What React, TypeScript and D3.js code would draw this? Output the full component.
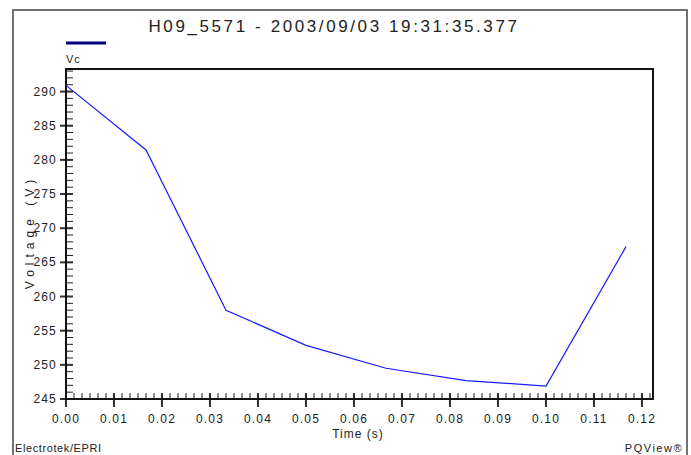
import React from "react";
import * as d3 from "d3";

const times = [0, 1 / 60, 2 / 60, 3 / 60, 4 / 60, 5 / 60, 6 / 60, 7 / 60];
const vcValues = [290.9, 281.45, 258.0, 252.85, 249.5, 247.7, 246.9, 267.3];
const xTickValues = [0, 0.01, 0.02, 0.03, 0.04, 0.05, 0.06, 0.07, 0.08, 0.09, 0.1, 0.11, 0.12];
const yTickValues = [245, 250, 255, 260, 265, 270, 275, 280, 285, 290];

const title = "H09_5571 - 2003/09/03 19:31:35.377";
const seriesName = "Vc";

const W = 691;
const H = 455;
const margin = { top: 69, right: 38, bottom: 56, left: 66 };
const font = "'Liberation Sans Narrow', 'Liberation Sans', Arial, sans-serif";

export default function App() {
  const plotW = W - margin.left - margin.right;
  const plotH = H - margin.top - margin.bottom;

  const x = d3.scaleLinear().domain([0, 0.12229]).range([0, plotW]);
  const y = d3.scaleLinear().domain([245, 293.3]).range([plotH, 0]);

  const line = d3
    .line<number>()
    .x((d, i) => x(times[i]))
    .y((d) => y(d));

  // minor ticks: one per sample step on x, one per volt on y
  const xMinor = d3.range(0, 74).map((i) => i / 600).filter((t) => t <= 0.1222);
  const yMinor = d3.range(245, 294, 1);

  return (
    <svg
      width={W}
      height={H}
      style={{ position: "absolute", left: 0, top: 0, background: "#fff" }}
      fontFamily={font}
    >
      {/* outer frame */}
      <rect x={13} y={10} width={674} height={460} fill="none" stroke="#444" strokeWidth={1.5} />

      <text x={334} y={32} textAnchor="middle" fontSize={17} letterSpacing={2.6} fill="#222">
        {title}
      </text>

      {/* legend */}
      <line x1={66} x2={106} y1={43} y2={43} stroke="#000080" strokeWidth={3} />
      <text x={66} y={63} fontSize={11} letterSpacing={1} fill="#222">
        {seriesName}
      </text>

      <g transform={`translate(${margin.left},${margin.top})`}>
        {xMinor.map((t, i) => (
          <line key={"xm" + i} x1={x(t)} x2={x(t)} y1={plotH - 6} y2={plotH} stroke="#222" strokeWidth={1} />
        ))}
        {yMinor.map((v) => (
          <line key={"ym" + v} x1={0} x2={7} y1={y(v)} y2={y(v)} stroke="#222" strokeWidth={1} />
        ))}
        {xTickValues.map((t) => (
          <g key={"xt" + t}>
            <line x1={x(t)} x2={x(t)} y1={plotH - 6} y2={plotH + 8} stroke="#333" strokeWidth={2} />
            <text x={x(t)} y={plotH + 24} textAnchor="middle" fontSize={12} letterSpacing={1.2} fill="#222">
              {t.toFixed(2)}
            </text>
          </g>
        ))}
        {yTickValues.map((v) => (
          <g key={"yt" + v}>
            <line x1={-6} x2={7} y1={y(v)} y2={y(v)} stroke="#333" strokeWidth={2} />
            <text x={-9} y={y(v) + 4} textAnchor="end" fontSize={12} letterSpacing={1.2} fill="#222">
              {v}
            </text>
          </g>
        ))}

        {/* plot frame */}
        <rect x={0} y={0} width={plotW} height={plotH} fill="none" stroke="#111" strokeWidth={2} />

        <path d={line(vcValues) || ""} fill="none" stroke="#1a1aff" strokeWidth={1.2} />

        <text x={292} y={plotH + 39} textAnchor="middle" fontSize={12} letterSpacing={1} fill="#222">
          Time (s)
        </text>
        <text
          transform={`translate(-32,${plotH / 2 - 2}) rotate(-90)`}
          textAnchor="middle"
          fontSize={12}
          letterSpacing={5}
          fill="#222"
        >
          Voltage (V)
        </text>
      </g>

      <text x={15} y={452} fontSize={11} letterSpacing={0.6} fill="#222">
        Electrotek/EPRI
      </text>
      <text x={683} y={452} textAnchor="end" fontSize={11} letterSpacing={1.5} fill="#222">
        PQView®
      </text>
    </svg>
  );
}
